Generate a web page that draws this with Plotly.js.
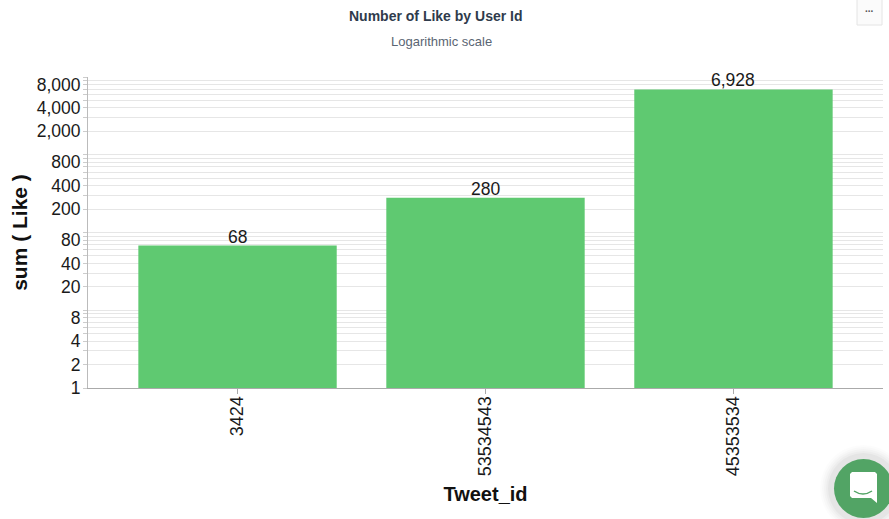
<!DOCTYPE html>
<html><head><meta charset="utf-8">
<script src="https://cdn.plot.ly/plotly-3.0.1.min.js"></script>
<style>html,body{margin:0;padding:0;background:#fff;overflow:hidden}#c{width:889px;height:519px}</style>
</head><body><div id="c"></div>
<script>
const categories = ['3424', '53534543', '45353534'];
const likes = [68, 280, 6928];
const barLabels = ['68', '280', '6,928'];
const yTickVals = [1,2,3,4,5,6,7,8,9,10,20,30,40,50,60,70,80,90,100,200,300,400,500,600,700,800,900,1000,2000,3000,4000,5000,6000,7000,8000,9000,10000];
const yTickText = ['1','2','','4','','','','8','','','20','','40','','','','80','','','200','','400','','','','800','','','2,000','','4,000','','','','8,000','',''];
const W = 889, H = 519, L = 88, R = 6, T = 77, B = 131;
const px = x => (x - L) / (W - L - R), py = y => (H - B - y) / (H - T - B);
const disc = (x0,x1,y0,y1,fill) => ({type:'circle',xref:'paper',yref:'paper',layer:'above',x0:px(x0),x1:px(x1),y0:py(y1),y1:py(y0),fillcolor:fill,line:{width:0}});
const shapes = [];
[[14,.012],[12,.015],[10,.02],[8,.025],[6,.03]].forEach(([r,o]) => shapes.push(disc(834-r,893+r,459-r,518+r,`rgba(0,0,0,${o})`)));
shapes.push(disc(834,893,459,518,'#52a465'));
shapes.push({type:'path',xref:'paper',yref:'paper',layer:'above',fillcolor:'#ffffff',line:{width:0},
  path:`M ${px(852)} ${py(472)} L ${px(875)} ${py(472)} L ${px(877)} ${py(474)} L ${px(877)} ${py(503)} L ${px(871)} ${py(498)} L ${px(852)} ${py(498)} L ${px(850)} ${py(496)} L ${px(850)} ${py(474)} Z`});
shapes.push({type:'path',xref:'paper',yref:'paper',layer:'above',path:`M ${px(854)} ${py(491)} Q ${px(863)} ${py(497)} ${px(872)} ${py(491)}`,line:{color:'#52a465',width:1.5}});
shapes.push({type:'rect',xref:'paper',yref:'paper',layer:'above',x0:px(857),x1:px(882),y0:py(-2),y1:py(25),fillcolor:'#fbfbfb',line:{color:'#e4e4e4',width:1}});
const trace = {
  type:'bar', x:categories, y:likes, cliponaxis:false,
  marker:{color:'#5fc971',line:{width:0}}, hoverinfo:'x+y'
};
const labelNotes = categories.map((c,i) => ({
  x:i, y:Math.log10(likes[i]), xref:'x', yref:'y', text:barLabels[i], showarrow:false, xanchor:'center', yanchor:'bottom', yshift:-3,
  font:{size:17.5,color:'#1a1a1a'}
}));
const layout = {
  width:W, height:H, showlegend:false, paper_bgcolor:'#fff', plot_bgcolor:'#fff',
  margin:{l:L,r:R,t:T,b:B,pad:0}, bargap:0.2,
  font:{family:'Liberation Sans, Arial, sans-serif',color:'#1a1a1a'},
  xaxis:{type:'category',range:[-0.603,2.603],tickangle:-90,tickfont:{size:18,color:'#1a1a1a'},ticklabelstandoff:-5,
    ticks:'outside',ticklen:5,tickcolor:'#aaa',showline:true,linecolor:'#aaa',linewidth:1,showgrid:false,automargin:false,
    title:{text:'Tweet_id',font:{size:20,color:'#111',weight:700},standoff:11}},
  yaxis:{type:'log',range:[0,4],tickmode:'array',tickvals:yTickVals,ticktext:yTickText,tickfont:{size:17.5,color:'#1a1a1a'},ticklabelstandoff:-1,
    ticks:'outside',ticklen:4,tickcolor:'#ccc',showline:true,linecolor:'#bbb',linewidth:1,showgrid:true,gridcolor:'#e6e6e6',gridwidth:1,zeroline:false,automargin:false,
    title:{text:'sum ( Like )',font:{size:21,color:'#111',weight:700},standoff:3}},
  shapes,
  annotations:labelNotes.concat([
    {xref:'paper',yref:'paper',x:px(435),y:py(16),xanchor:'center',yanchor:'middle',text:'<b>Number of Like by User Id</b>',showarrow:false,font:{size:14,color:'#2f3b4c'}},
    {xref:'paper',yref:'paper',x:px(441),y:py(41),xanchor:'center',yanchor:'middle',text:'Logarithmic scale',showarrow:false,font:{size:13,color:'#5a6573'}},
    {xref:'paper',yref:'paper',x:px(869),y:py(9),xanchor:'center',yanchor:'middle',text:'<b>...</b>',showarrow:false,font:{size:10,color:'#555'}}
  ])
};
Plotly.newPlot('c',[trace],layout,{displayModeBar:false,staticPlot:true});
</script></body></html>
